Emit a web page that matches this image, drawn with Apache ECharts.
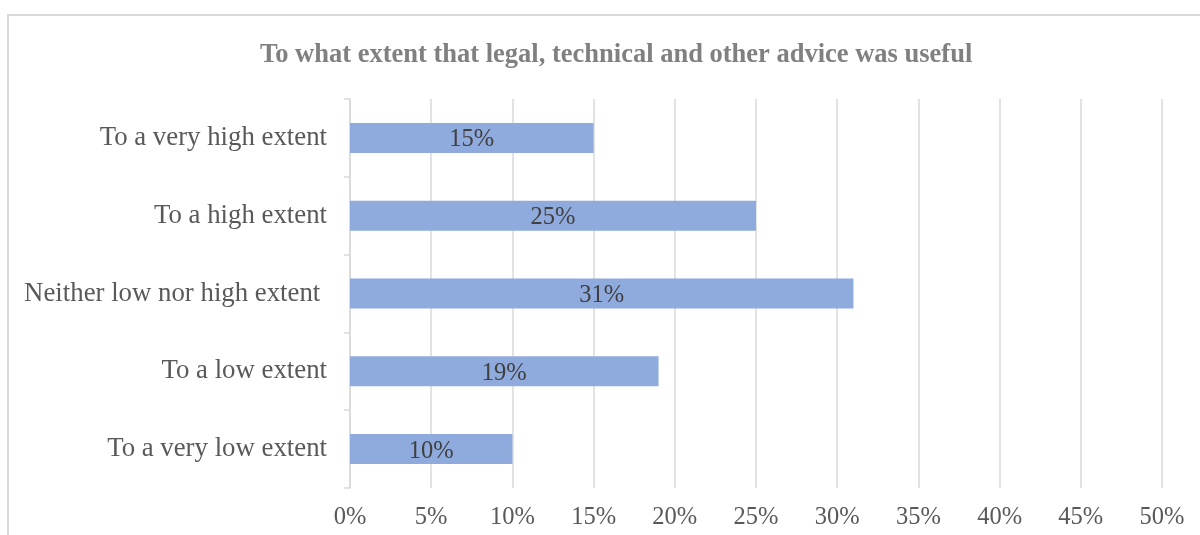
<!DOCTYPE html>
<html>
<head>
<meta charset="utf-8">
<style>
  html, body { margin: 0; padding: 0; background: #ffffff; }
  #chart { width: 1200px; height: 535px; }
</style>
<script src="https://cdn.jsdelivr.net/npm/echarts@6/dist/echarts.min.js"></script>
</head>
<body>
<div id="chart"></div>
<script>
// Survey answers, listed top to bottom
const categories = [
  'To a very high extent',
  'To a high extent',
  'Neither low nor high extent ',
  'To a low extent',
  'To a very low extent'
];
// Share of respondents (%)
const shares = [15, 25, 31, 19, 10];
const xTicks = [0, 5, 10, 15, 20, 25, 30, 35, 40, 45, 50];

const serif = '"Liberation Serif", "Times New Roman", serif';
const chart = echarts.init(document.getElementById('chart'), null, { renderer: 'canvas' });

chart.setOption({
  animation: false,
  backgroundColor: '#ffffff',
  title: {
    text: 'To what extent that legal, technical and other advice was useful',
    left: 255,
    top: 37,
    textStyle: { fontFamily: serif, fontWeight: 'bold', fontSize: 26.5, color: '#808080' }
  },
  graphic: [{
    type: 'rect',
    shape: { x: 8, y: 15, width: 1400, height: 700 },
    style: { fill: 'none', stroke: '#d9d9d9', lineWidth: 2 },
    silent: true
  }],
  grid: { left: 350, right: 38, top: 99, bottom: 47 },
  xAxis: {
    type: 'value',
    min: xTicks[0],
    max: xTicks[xTicks.length - 1],
    interval: 5,
    axisLine: { show: false },
    axisTick: { show: false },
    splitLine: { show: true, lineStyle: { color: '#d9d9d9', width: 1.5 } },
    axisLabel: {
      formatter: v => v + '%',
      fontFamily: serif, fontSize: 24.5, color: '#595959', margin: 17
    }
  },
  yAxis: {
    type: 'category',
    data: categories,
    inverse: true,
    axisLine: { show: true, lineStyle: { color: '#d9d9d9', width: 1.5 } },
    axisTick: { show: true, length: 6, lineStyle: { color: '#d9d9d9', width: 1.5 } },
    axisLabel: { fontFamily: serif, fontSize: 26.8, color: '#595959', margin: 23 }
  },
  series: [{
    type: 'bar',
    data: shares,
    barWidth: 30,
    itemStyle: { color: '#8faadc' },
    label: {
      show: true,
      position: 'inside',
      offset: [0, 2],
      formatter: p => p.value + '%',
      fontFamily: serif, fontSize: 24.5, color: '#404040'
    }
  }]
});
</script>
</body>
</html>
